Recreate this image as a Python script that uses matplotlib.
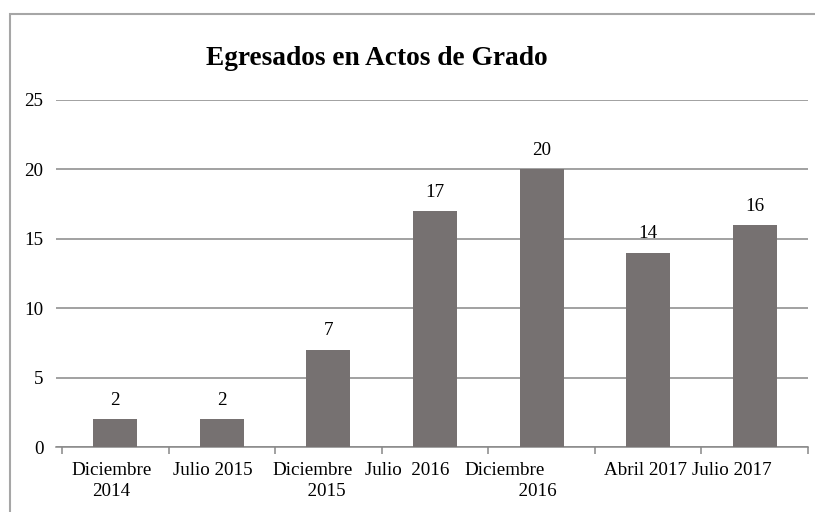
import matplotlib
matplotlib.use("Agg")
import matplotlib.pyplot as plt
import matplotlib.transforms as mtransforms
from matplotlib.patches import Rectangle
from matplotlib.ticker import FixedLocator

categories = ["Diciembre\n2014", "Julio 2015", "Diciembre\n      2015", "Julio  2016",
              "Diciembre\n              2016", "Abril 2017", "Julio 2017"]
label_shift_px = [-4, -9, -16, -28, -37, -3, -23]
values = [2, 2, 7, 17, 20, 14, 16]
yticks = [0, 5, 10, 15, 20, 25]
title = "Egresados en Actos de Grado"

plt.rcParams['font.family'] = ['Liberation Serif', 'DejaVu Serif']

W, H = 815, 512
FS = 13.7
fig = plt.figure(figsize=(W / 100, H / 100), dpi=100)
fig.patch.set_facecolor("white")

# outer frame
fig.add_artist(Rectangle((9.5 / W, -0.05), 1.2, (H - 14) / H + 0.05,
                         transform=fig.transFigure, fill=False,
                         edgecolor="#a6a6a6", linewidth=1.5))

left, right, top, bottom = 56, 808, 100, 447
ax = fig.add_axes([left / W, (H - bottom) / H, (right - left) / W, (bottom - top) / H])

x = list(range(len(values)))
bars = ax.bar(x, values, width=0.413, color="#767171", zorder=3)
ax.bar_label(bars, labels=[str(v) for v in values], padding=7.5, fontsize=FS)

ax.set_ylim(0, 25)
ax.set_xlim(-0.5 - 6 / 106.6, len(values) - 0.5)
ax.set_yticks(yticks)
ax.set_yticklabels([str(t) for t in yticks], fontsize=FS)
ax.tick_params(axis="y", length=0, pad=9)
ax.yaxis.grid(True, color="#888888", linewidth=1.1, zorder=0)

for s in ["left", "right", "top"]:
    ax.spines[s].set_visible(False)
ax.spines["bottom"].set_color("#888888")
ax.spines["bottom"].set_linewidth(1.1)

ax.set_xticks(x)
ax.set_xticklabels([])
ax.tick_params(axis="x", which="major", length=0)
ax.xaxis.set_minor_locator(FixedLocator([i - 0.5 for i in range(len(values) + 1)]))
ax.tick_params(axis="x", which="minor", length=5, color="#888888", width=1.1)

base = mtransforms.blended_transform_factory(ax.transData, ax.transAxes)
for xi, lab, dx in zip(x, categories, label_shift_px):
    tr = base + mtransforms.ScaledTranslation(dx / 100, -15 / 100, fig.dpi_scale_trans)
    ax.text(xi, 0, lab, transform=tr, ha="center", va="top", fontsize=FS,
            multialignment="center", linespacing=1.32, clip_on=False)

fig.text(376.5 / W, (H - 65) / H, title, ha="center", va="baseline",
         fontsize=19.7, fontweight="bold")

fig.savefig("out.png", dpi=100)
